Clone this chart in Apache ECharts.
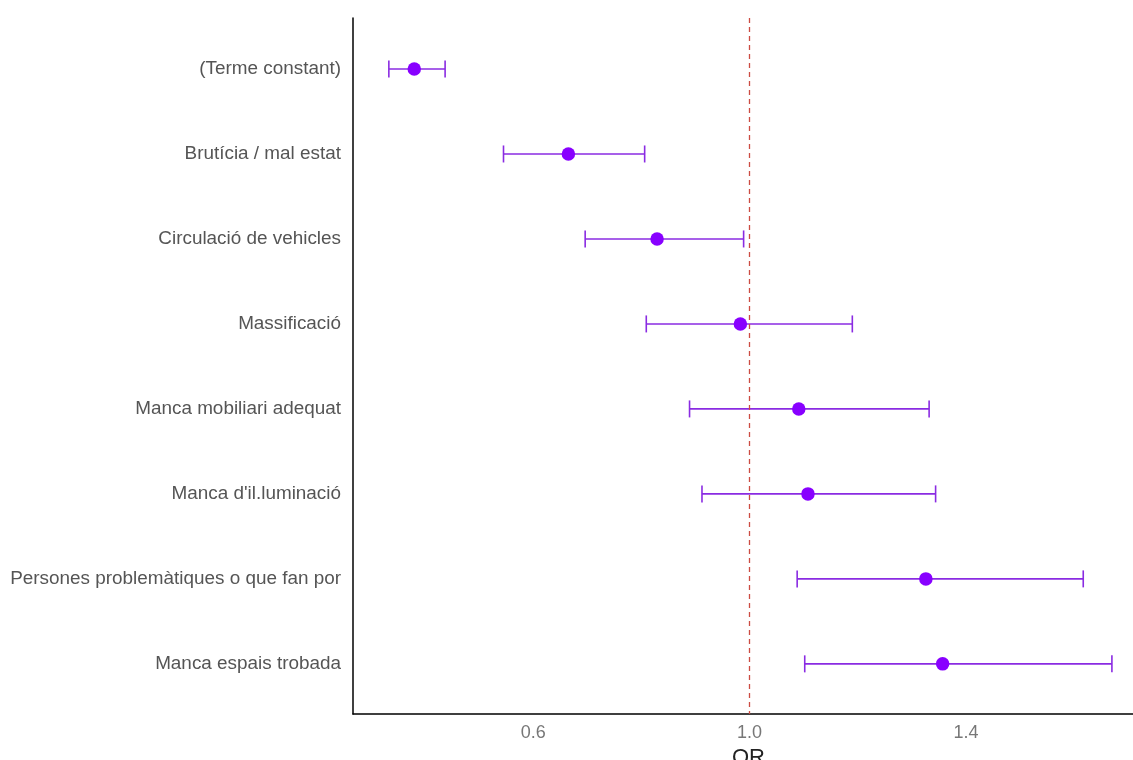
<!DOCTYPE html>
<html>
<head>
<meta charset="utf-8">
<script src="https://cdn.jsdelivr.net/npm/echarts@6/dist/echarts.min.js"></script>
<style>html,body{margin:0;padding:0;background:#fff;overflow:hidden;}#chart{width:1133px;height:760px;}</style>
</head>
<body>
<div id="chart"></div>
<script>
const categories = [
  "(Terme constant)",
  "Brutícia / mal estat",
  "Circulació de vehicles",
  "Massificació",
  "Manca mobiliari adequat",
  "Manca d'il.luminació",
  "Persones problemàtiques o que fan por",
  "Manca espais trobada"
];
const orValues = [0.380, 0.665, 0.829, 0.983, 1.091, 1.108, 1.326, 1.357];
const lowerCI  = [0.333, 0.545, 0.696, 0.809, 0.889, 0.912, 1.088, 1.102];
const upperCI  = [0.437, 0.806, 0.989, 1.190, 1.332, 1.344, 1.617, 1.670];
const xTicks = [0.6, 1.0, 1.4];
const refValue = 1.0;

const chart = echarts.init(document.getElementById('chart'));
const errData = categories.map((c, i) => [lowerCI[i], upperCI[i], i]);
const ptData = categories.map((c, i) => [orValues[i], i]);
const barColor = '#8a2be2';
const ptColor = '#8800ff';

chart.setOption({
  animation: false,
  backgroundColor: '#ffffff',
  grid: { left: 353, right: 0, top: 18, bottom: 46, containLabel: false, outerBoundsMode: 'none' },
  xAxis: {
    type: 'value',
    min: 0.2667,
    max: 1.709,
    name: 'OR',
    nameLocation: 'middle',
    nameGap: 28,
    nameTextStyle: { fontSize: 22, color: '#222', fontFamily: 'Liberation Sans', padding: [0, 0, 0, 11] },
    splitLine: { show: false },
    axisLine: { show: true, onZero: false, lineStyle: { color: '#000', width: 1.5 } },
    axisTick: { show: false },
    axisLabel: {
      customValues: xTicks,
      formatter: v => v.toFixed(1),
      color: '#777', fontSize: 18, margin: 10, fontFamily: 'Liberation Sans'
    }
  },
  yAxis: {
    type: 'value',
    inverse: true,
    min: -0.6,
    max: 7.59,
    splitLine: { show: false },
    axisLine: { show: true, onZero: false, lineStyle: { color: '#000', width: 1.5 } },
    axisTick: { show: false },
    axisLabel: {
      customValues: categories.map((c, i) => i),
      formatter: v => categories[Math.round(v)] || '',
      color: '#555', fontSize: 18.9, margin: 12, fontFamily: 'Liberation Sans',
      padding: [3, 0, 0, 0]
    }
  },
  series: [
    {
      type: 'custom',
      data: errData,
      encode: { x: [0, 1], y: 2 },
      silent: true,
      z: 2,
      renderItem: function (params, api) {
        const y = api.value(2);
        const p0 = api.coord([api.value(0), y]);
        const p1 = api.coord([api.value(1), y]);
        const h = 8.5;
        const style = { stroke: barColor, lineWidth: 1.6 };
        return {
          type: 'group',
          children: [
            { type: 'line', shape: { x1: p0[0], y1: p0[1], x2: p1[0], y2: p1[1] }, style: style },
            { type: 'line', shape: { x1: p0[0], y1: p0[1] - h, x2: p0[0], y2: p0[1] + h }, style: style },
            { type: 'line', shape: { x1: p1[0], y1: p1[1] - h, x2: p1[0], y2: p1[1] + h }, style: style }
          ]
        };
      }
    },
    {
      type: 'scatter',
      data: ptData,
      symbol: 'circle',
      symbolSize: 13.5,
      itemStyle: { color: ptColor, opacity: 1 },
      z: 3,
      markLine: {
        silent: true,
        symbol: ['none', 'none'],
        label: { show: false },
        lineStyle: { color: '#cc4c42', type: [5, 4], width: 1.3 },
        data: [{ xAxis: refValue }]
      }
    }
  ]
});
</script>
</body>
</html>
